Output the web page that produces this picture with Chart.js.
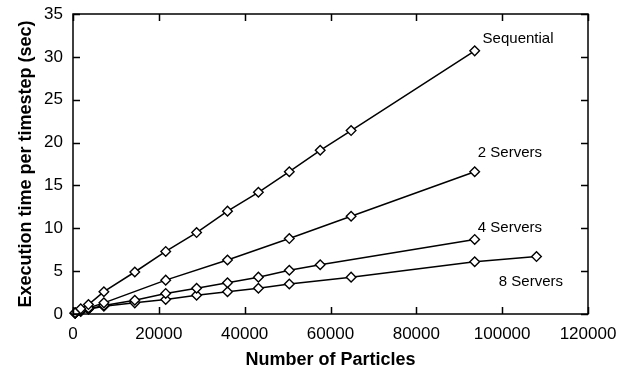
<!DOCTYPE html>
<html>
<head>
<meta charset="utf-8">
<script src="https://cdn.jsdelivr.net/npm/chart.js@4.4.1/dist/chart.umd.min.js"></script>
<style>
  html, body { margin: 0; padding: 0; background: #fff; }
  #wrap { width: 630px; height: 376px; position: relative; }
</style>
</head>
<body>
<div id="wrap"><canvas id="chart-timing"></canvas></div>
<script>
// ------------------------------------------------------------
// Execution time per timestep vs number of particles
// ------------------------------------------------------------
const seqX = [500, 1800, 3600, 7200, 14400, 21600, 28800, 36000, 43200, 50400, 57600, 64800, 93600];
const seqY = [0.15, 0.6, 1.1, 2.6, 4.9, 7.3, 9.5, 12.0, 14.2, 16.6, 19.1, 21.4, 30.7];

const twoX = [500, 1800, 3600, 7200, 21600, 36000, 50400, 64800, 93600];
const twoY = [0.1, 0.4, 0.7, 1.3, 3.95, 6.3, 8.8, 11.4, 16.6];

const fourX = [500, 1800, 3600, 7200, 14400, 21600, 28800, 36000, 43200, 50400, 57600, 93600];
const fourY = [0.1, 0.35, 0.6, 1.0, 1.6, 2.4, 3.0, 3.65, 4.3, 5.1, 5.75, 8.7];

const eightX = [500, 1800, 3600, 7200, 14400, 21600, 28800, 36000, 43200, 50400, 64800, 93600, 108000];
const eightY = [0.1, 0.3, 0.55, 0.9, 1.3, 1.7, 2.2, 2.6, 3.0, 3.5, 4.3, 6.1, 6.7];

const seriesNames = ["Sequential", "2 Servers", "4 Servers", "8 Servers"];
const xTicks = [0, 20000, 40000, 60000, 80000, 100000, 120000];
const yTicks = [0, 5, 10, 15, 20, 25, 30, 35];

// where each series name sits, in data units
const nameAnchors = [
  { x: 103700, y: 32.1 },
  { x: 101800, y: 18.8 },
  { x: 101800, y: 10.0 },
  { x: 106700, y: 3.7 }
];

const ink = "#000";
const baseFont = { family: "'Liberation Sans', Arial, sans-serif", size: 17 };
const titleFont = { ...baseFont, size: 18, weight: "bold" };

function toPoints(xs, ys) {
  return xs.map((x, i) => ({ x, y: ys[i] }));
}

function series(label, xs, ys) {
  return {
    label,
    data: toPoints(xs, ys),
    showLine: true,
    borderColor: ink,
    borderWidth: 1.5,
    backgroundColor: "#fff",
    pointStyle: "rectRot",
    pointRadius: 4.8,
    pointBorderWidth: 1.4,
    pointBorderColor: ink,
    pointBackgroundColor: "#fff",
    clip: false
  };
}

// Frame with inward tick marks on all four sides, plus series names
const framePlugin = {
  id: "frame",
  afterDatasetsDraw(chart) {
    const { ctx, chartArea: a, scales: { x, y } } = chart;
    const len = 7;
    ctx.save();
    ctx.strokeStyle = ink;
    ctx.lineWidth = 1.5;
    ctx.strokeRect(a.left, a.top, a.right - a.left, a.bottom - a.top);
    ctx.beginPath();
    xTicks.forEach(v => {
      const px = Math.round(x.getPixelForValue(v)) + 0.5;
      ctx.moveTo(px, a.bottom); ctx.lineTo(px, a.bottom - len);
      ctx.moveTo(px, a.top); ctx.lineTo(px, a.top + len);
    });
    yTicks.forEach(v => {
      const py = Math.round(y.getPixelForValue(v)) + 0.5;
      ctx.moveTo(a.left, py); ctx.lineTo(a.left + len, py);
      ctx.moveTo(a.right, py); ctx.lineTo(a.right - len, py);
    });
    ctx.stroke();

    ctx.fillStyle = ink;
    ctx.font = "15px 'Liberation Sans', Arial, sans-serif";
    ctx.textAlign = "center";
    ctx.textBaseline = "middle";
    seriesNames.forEach((name, i) => {
      const p = nameAnchors[i];
      ctx.fillText(name, x.getPixelForValue(p.x), y.getPixelForValue(p.y));
    });
    ctx.restore();
  }
};

new Chart(document.getElementById("chart-timing"), {
  type: "scatter",
  data: {
    datasets: [
      series(seriesNames[0], seqX, seqY),
      series(seriesNames[1], twoX, twoY),
      series(seriesNames[2], fourX, fourY),
      series(seriesNames[3], eightX, eightY)
    ]
  },
  options: {
    responsive: true,
    maintainAspectRatio: false,
    animation: false,
    layout: { padding: { left: 0, top: 14, right: 42, bottom: 0 } },
    plugins: {
      legend: { display: false },
      tooltip: { enabled: false }
    },
    scales: {
      x: {
        type: "linear",
        min: 0,
        max: 120000,
        afterBuildTicks: s => { s.ticks = xTicks.map(v => ({ value: v })); },
        afterFit: s => { s.height = 62; s.paddingLeft = 0; s.paddingRight = 0; },
        grid: { display: false, drawTicks: false },
        border: { display: false },
        ticks: { font: baseFont, color: ink, padding: 10, maxRotation: 0, callback: v => String(v) },
        title: { display: true, text: "Number of Particles", font: titleFont, color: ink, padding: { top: 0, bottom: 5 } }
      },
      y: {
        type: "linear",
        min: 0,
        max: 35,
        afterBuildTicks: s => { s.ticks = yTicks.map(v => ({ value: v })); },
        afterFit: s => { s.width = 73; s.paddingTop = 0; s.paddingBottom = 0; },
        grid: { display: false, drawTicks: false },
        border: { display: false },
        ticks: { font: baseFont, color: ink, padding: 10, callback: v => String(v) },
        title: { display: true, text: "Execution time per timestep (sec)", font: titleFont, color: ink, padding: { top: 15, bottom: 0 } }
      }
    }
  },
  plugins: [framePlugin]
});
</script>
</body>
</html>
